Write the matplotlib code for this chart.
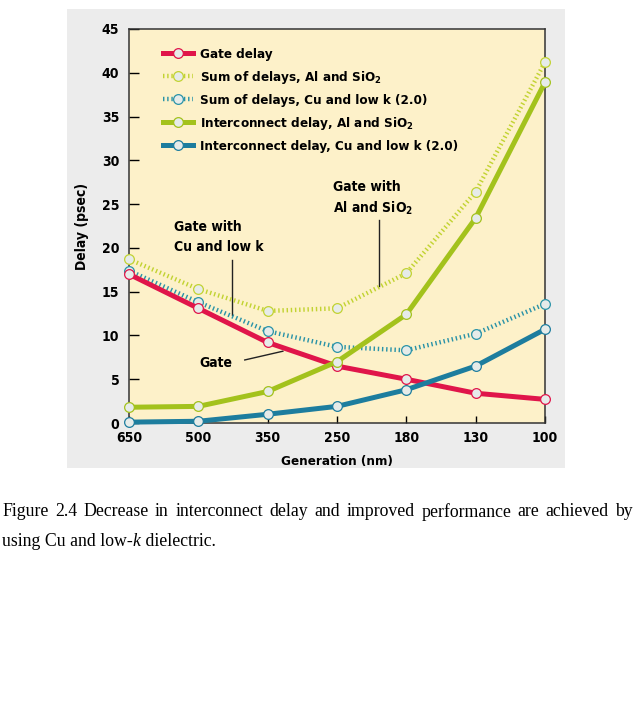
import matplotlib
matplotlib.use("Agg")
import matplotlib.pyplot as plt   # Plota os gráficos
import matplotlib.font_manager as fm
from matplotlib.patches import Rectangle

# Dados (atraso em psec por geração em nm)
geracoes  = ["650", "500", "350", "250", "180", "130", "100"]
atraso_porta = [17.0, 13.1, 9.2, 6.5, 5.0, 3.4, 2.7]      # Gate delay
soma_al      = [18.7, 15.3, 12.8, 13.1, 17.1, 26.4, 41.2] # Sum of delays, Al and SiO2
soma_cu      = [17.4, 13.8, 10.5, 8.7, 8.3, 10.2, 13.6]   # Sum of delays, Cu and low k
inter_al     = [1.8, 1.9, 3.6, 7.0, 12.4, 23.4, 38.9]     # Interconnect delay, Al and SiO2
inter_cu     = [0.1, 0.2, 1.0, 1.9, 3.8, 6.5, 10.7]       # Interconnect delay, Cu and low k

rotulos = ["Gate delay",
           "Sum of delays, Al and SiO$_2$",
           "Sum of delays, Cu and low k (2.0)",
           "Interconnect delay, Al and SiO$_2$",
           "Interconnect delay, Cu and low k (2.0)"]

# Cores
VERMELHO = "#e0154a"
AMARELO  = "#c2d332"
TURQUESA = "#2a93a8"
VERDE    = "#a3c21c"
AZUL     = "#1d7d9e"
FUNDO    = "#fdf1c9"
CINZA    = "#ececec"
MARCADOR = "#e6ebe9"

# Procura uma fonte estreita (condensed / narrow) em negrito
estreitas = [f for f in fm.fontManager.ttflist
             if ("Narrow" in f.name or f.stretch in ("condensed", "semi-condensed"))
             and f.weight in ("bold", 700) and f.style == "normal"]
if estreitas:
    nome_fonte = estreitas[0].name
    plt.rcParams["font.stretch"] = estreitas[0].stretch
else:
    nome_fonte = "Liberation Sans"
plt.rcParams["font.family"] = [nome_fonte, "DejaVu Sans"]
plt.rcParams["font.weight"] = "bold"
plt.rcParams["mathtext.fontset"] = "custom"
plt.rcParams["mathtext.rm"] = nome_fonte + ":bold"
plt.rcParams["mathtext.it"] = nome_fonte + ":bold"
plt.rcParams["mathtext.bf"] = nome_fonte + ":bold"

fig = plt.figure(figsize=(6.36, 7.16), dpi=100)

# Painel cinza atrás do gráfico
fig.patches.append(Rectangle((0.1053, 0.3464), 0.783, 0.641, transform=fig.transFigure,
                             facecolor=CINZA, edgecolor="none", zorder=-5))

ax = fig.add_axes([0.2028, 0.4092, 0.654, 0.5503])
ax.set_zorder(2)
ax.set_facecolor(FUNDO)

x = list(range(len(geracoes)))

def curva(y, cor, estilo, lw, rotulo, z):
    linha, = ax.plot(x, y, color=cor, linestyle=estilo, linewidth=lw, marker="o",
                     markersize=7, markerfacecolor=MARCADOR, markeredgecolor=cor,
                     markeredgewidth=0.9, label=rotulo, clip_on=False, zorder=z)
    return linha

pontilhado = (0, (0.32, 0.62))
l2 = curva(soma_al, AMARELO, pontilhado, 3.2, rotulos[1], 3)
l3 = curva(soma_cu, TURQUESA, pontilhado, 3.2, rotulos[2], 3)
l1 = curva(atraso_porta, VERMELHO, "-", 3.6, rotulos[0], 4)
l4 = curva(inter_al, VERDE, "-", 3.6, rotulos[3], 5)
l5 = curva(inter_cu, AZUL, "-", 3.6, rotulos[4], 5)

leg = ax.legend(handles=[l1, l2, l3, l4, l5], loc="upper left", frameon=False,
                numpoints=1, handlelength=2.2, handletextpad=0.55, labelspacing=0.6,
                fontsize=9.6, bbox_to_anchor=(0.07, 0.965), borderaxespad=0)

ax.set_xlim(0, 6)
ax.set_ylim(0, 45)
ax.set_yticks(range(0, 46, 5))
ax.set_xticks(x)
ax.set_xticklabels(geracoes)
ax.tick_params(direction="in", length=7, width=1, labelsize=10, pad=7)
ax.tick_params(axis="x", length=5, pad=6)
for s in ax.spines.values():
    s.set_color("#333333")
    s.set_linewidth(1.1)

ax.set_ylabel("Delay (psec)", fontsize=10, fontweight="bold", labelpad=9)
ax.set_xlabel("Generation (nm)", fontsize=9.6, fontweight="bold", labelpad=7)

# Anotações
ax.text(2.94, 26.9, "Gate with", fontsize=10, fontweight="bold", va="center")
ax.text(2.94, 24.5, "Al and SiO$_2$", fontsize=10, fontweight="bold", va="center")
ax.plot([3.6, 3.6], [23.2, 15.7], color="#222222", linewidth=1)
ax.text(0.65, 22.4, "Gate with", fontsize=10, fontweight="bold", va="center")
ax.text(0.65, 20.1, "Cu and low k", fontsize=10, fontweight="bold", va="center")
ax.plot([1.49, 1.49], [18.6, 12.3], color="#222222", linewidth=1)
ax.text(1.02, 6.85, "Gate", fontsize=10, fontweight="bold", va="center")
ax.plot([1.67, 2.22], [7.2, 8.2], color="#222222", linewidth=1)

# Legenda da figura (texto justificado na primeira linha)
serif = "Liberation Serif"
TAM = 12.8
linha1 = "Figure 2.4 Decrease in interconnect delay and improved performance are achieved by".split()
textos = [fig.text(0, 1 - 512 / 716, p, fontsize=TAM, family=serif, fontweight="normal",
                   fontstretch="normal", va="center") for p in linha1]
fig.canvas.draw()
rend = fig.canvas.get_renderer()
larguras = [t.get_window_extent(rend).width for t in textos]
esq, dir_ = 2, 633
folga = (dir_ - esq - sum(larguras)) / (len(textos) - 1)
pos = esq
for t, w in zip(textos, larguras):
    t.set_x(pos / 636)
    pos += w + folga

y2 = 1 - 541 / 716
t_a = fig.text(2 / 636, y2, "using Cu and low-", fontsize=TAM, family=serif,
               fontweight="normal", fontstretch="normal", va="center")
fig.canvas.draw()
wa = t_a.get_window_extent(rend).width
t_b = fig.text((2 + wa) / 636, y2, "k", fontsize=TAM, family=serif, style="italic",
               fontweight="normal", fontstretch="normal", va="center")
fig.canvas.draw()
wb = t_b.get_window_extent(rend).width
fig.text((2 + wa + wb) / 636, y2, " dielectric.", fontsize=TAM, family=serif,
         fontweight="normal", fontstretch="normal", va="center")

fig.savefig("out.png", dpi=100, facecolor="white")
